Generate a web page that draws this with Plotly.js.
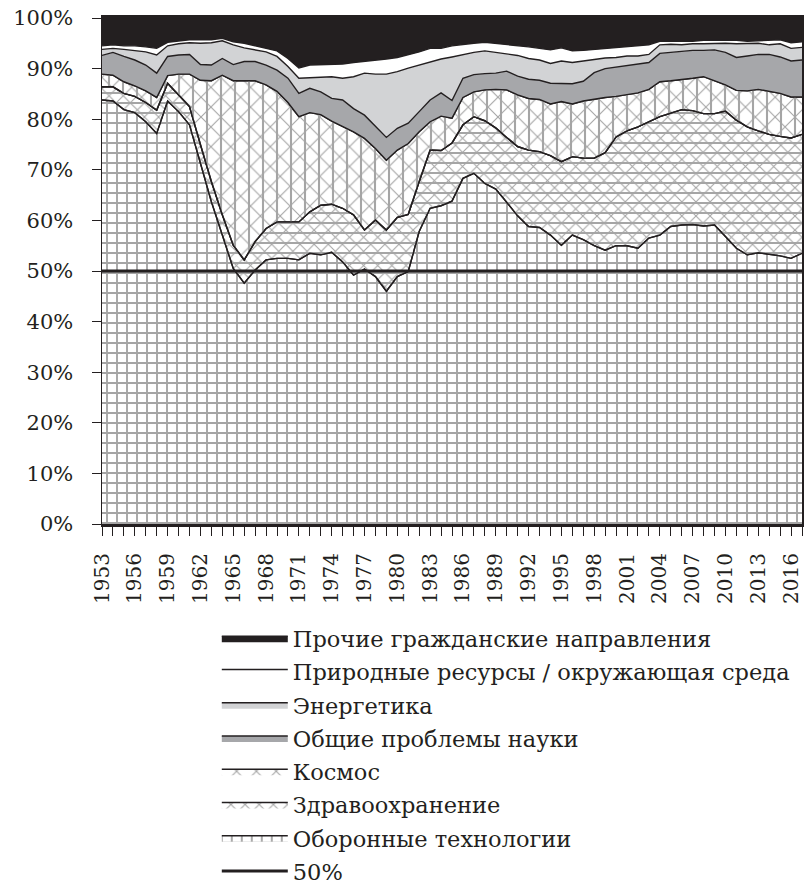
<!DOCTYPE html>
<html>
<head>
<meta charset="utf-8">
<script src="https://cdn.plot.ly/plotly-3.0.1.min.js"></script>
<style>
html,body{margin:0;padding:0;background:#ffffff;}
#chart{width:807px;height:888px;}
</style>
</head>
<body>
<div id="chart"></div>
<script>
// ---------- DATA (shares of the budget, %) ----------
const years = [1953,1954,1955,1956,1957,1958,1959,1960,1961,1962,1963,1964,1965,1966,1967,1968,1969,1970,
  1971,1972,1973,1974,1975,1976,1977,1978,1979,1980,1981,1982,1983,1984,1985,1986,1987,1988,1989,1990,
  1991,1992,1993,1994,1995,1996,1997,1998,1999,2000,2001,2002,2003,2004,2005,2006,2007,2008,2009,2010,
  2011,2012,2013,2014,2015,2016,2017];

const defense = [83.8,83.6,81.9,81.3,79.5,77.2,83.6,81.5,78.9,71.5,63.7,57.1,50.5,47.6,50.2,52.2,52.5,52.5,
  52.2,53.5,53.2,53.7,51.8,49.2,50.4,48.9,46.0,48.9,49.9,57.8,62.4,62.9,63.8,68.3,69.3,67.3,66.2,63.6,
  60.9,58.8,58.6,57.1,55.1,57.1,56.2,55.0,54.1,55.0,55.0,54.5,56.5,57.1,58.8,59.1,59.2,58.9,59.1,56.8,
  54.5,53.2,53.6,53.3,53.0,52.5,53.5];

const health = [2.6,2.8,3.2,3.2,3.8,4.6,3.5,3.3,3.6,3.5,4.0,4.0,4.6,4.6,5.6,6.2,7.2,7.2,
  7.5,8.2,9.8,9.5,10.6,11.9,7.7,11.2,12.1,11.7,11.3,9.9,11.5,10.9,11.5,10.6,11.2,12.4,12.1,12.8,
  13.7,15.1,15.0,15.7,16.5,15.5,16.1,17.3,19.3,21.5,22.7,24.0,23.0,23.4,22.4,22.8,22.5,22.2,22.0,24.8,
  25.3,25.3,24.1,23.7,23.6,23.8,23.5];

const space = [2.5,2.3,2.3,2.1,2.3,2.5,1.5,4.1,6.4,12.7,19.9,27.6,32.5,35.4,31.8,28.4,25.8,23.6,
  20.8,19.6,17.9,16.4,16.1,16.4,18.1,14.1,13.8,13.3,14.0,9.8,5.6,6.8,4.9,5.4,4.9,6.1,7.6,9.4,
  10.2,10.2,10.3,10.2,11.9,10.4,11.3,11.7,10.9,8.0,7.1,6.7,6.4,6.9,6.4,5.9,6.4,7.3,6.5,5.2,
  5.9,7.1,8.2,8.5,8.5,8.1,7.4];

const science = [3.7,4.5,5.0,5.1,5.1,4.8,3.8,3.8,3.9,3.1,3.1,3.3,3.2,3.8,3.8,3.9,4.2,4.8,
  4.6,4.8,4.5,4.5,5.3,4.6,4.6,4.3,4.5,4.3,4.0,4.0,4.3,4.6,3.5,3.8,3.4,3.2,3.2,3.7,
  3.7,3.8,3.8,4.1,3.6,4.0,3.9,5.2,5.7,5.8,5.8,5.6,5.3,5.6,5.6,5.6,5.5,5.2,6.1,6.4,
  6.5,6.9,6.9,7.3,7.2,7.1,7.3];

const energy = [1.2,0.8,1.4,1.9,2.6,3.6,2.1,2.2,2.3,4.2,4.4,3.5,3.9,2.7,2.3,2.6,2.7,2.3,
  3.0,2.1,2.8,4.3,4.3,6.3,8.3,10.4,12.5,11.2,10.9,9.2,7.6,6.7,8.6,4.7,4.4,4.5,4.1,3.5,
  4.1,4.1,4.0,3.9,4.4,4.2,4.0,2.5,2.1,1.9,1.9,1.7,1.6,1.7,1.6,1.3,1.3,1.3,1.3,1.8,
  2.7,2.4,2.2,1.9,2.6,2.5,2.5];

const resources = [0.7,0.7,0.7,0.9,1.0,1.3,0.7,0.6,0.6,0.7,0.6,0.5,0.6,0.9,0.8,0.8,1.1,1.6,
  2.0,2.5,2.6,2.4,2.8,2.8,2.3,2.8,3.0,2.8,2.6,2.6,2.6,2.1,2.2,2.0,1.8,1.7,1.8,1.8,
  1.9,2.3,2.3,2.7,2.6,2.3,2.1,2.1,1.9,2.0,1.9,2.0,1.9,0.7,0.6,0.8,0.5,0.7,0.6,0.7,
  0.7,0.5,0.5,0.9,0.8,1.1,1.1];

const otherCivil = [5.5,5.3,5.5,5.5,5.7,6.0,4.8,4.5,4.3,4.3,4.3,4.0,4.7,5.0,5.5,5.9,6.5,8.0,
  9.9,9.3,9.2,9.2,9.1,8.8,8.6,8.3,8.1,7.8,7.3,6.7,6.0,6.0,5.5,5.2,5.0,4.8,5.0,5.2,
  5.5,5.7,6.0,6.3,5.9,6.5,6.4,6.2,6.0,5.8,5.6,5.5,5.3,4.6,4.6,4.5,4.6,4.4,4.4,4.3,
  4.4,4.6,4.5,4.4,4.3,4.9,4.7];

const seriesNames = [
  'Оборонные технологии',
  'Здравоохранение',
  'Космос',
  'Общие проблемы науки',
  'Энергетика',
  'Природные ресурсы / окружающая среда',
  'Прочие гражданские направления'
];
const thresholdName = '50%';
const thresholdLevel = 50;
const xTickYears = [1953,1956,1959,1962,1965,1968,1971,1974,1977,1980,1983,1986,1989,1992,1995,1998,2001,2004,2007,2010,2013,2016];
const yTickValues = [0,10,20,30,40,50,60,70,80,90,100];

// ---------- STACKING ----------
const layers = [defense, health, space, science, energy, resources, otherCivil];
const cum = [];
let run = years.map(() => 0);
layers.forEach(arr => {
  run = run.map((v, i) => Math.round((v + arr[i]) * 100) / 100);
  cum.push(run);
});

const INK = '#231f20';
const PAT = '#a5a5a5';
const FONT = 'DejaVu Serif';
const edge = {color: INK, width: 1.4, shape: 'linear'};

function base(y, extra) {
  return Object.assign({
    type: 'scatter', mode: 'lines', x: years, y: y,
    line: edge, hoverinfo: 'skip', showlegend: false
  }, extra);
}

const traces = [
  // Defense
  base(cum[0], {name: seriesNames[0], fill: 'tozeroy', fillcolor: '#ffffff',
    fillpattern: {shape: '+', size: 10, solidity: 0.34, fgcolor: PAT, bgcolor: '#ffffff', fillmode: 'replace'},
    showlegend: true, legendrank: 7, legendgroup: 'g7'}),
  // Health (base pattern)
  base(cum[1], {name: seriesNames[1], fill: 'tonexty', fillcolor: '#ffffff',
    fillpattern: {shape: 'x', size: 10, solidity: 0.2, fgcolor: PAT, bgcolor: '#ffffff', fillmode: 'replace'},
    showlegend: true, legendrank: 6, legendgroup: 'g6'}),
  // helper boundary (defense top) for health overlay
  base(cum[0], {}),
  // Health overlay (horizontal lines)
  base(cum[1], {fill: 'tonexty', fillcolor: 'rgba(0,0,0,0)',
    fillpattern: {shape: '-', size: 10, solidity: 0.2, fgcolor: PAT, bgcolor: 'rgba(0,0,0,0)', fillmode: 'replace'}}),
  // Space (base pattern)
  base(cum[2], {name: seriesNames[2], fill: 'tonexty', fillcolor: '#ffffff',
    fillpattern: {shape: 'x', size: 14, solidity: 0.15, fgcolor: PAT, bgcolor: '#ffffff', fillmode: 'replace'},
    showlegend: true, legendrank: 5, legendgroup: 'g5'}),
  // helper boundary (health top) for space overlay
  base(cum[1], {}),
  // Space overlay (vertical lines)
  base(cum[2], {fill: 'tonexty', fillcolor: 'rgba(0,0,0,0)',
    fillpattern: {shape: '|', size: 14, solidity: 0.15, fgcolor: PAT, bgcolor: 'rgba(0,0,0,0)', fillmode: 'replace'}}),
  // Science
  base(cum[3], {name: seriesNames[3], fill: 'tonexty', fillcolor: '#a6a7aa',
    showlegend: true, legendrank: 4, legendgroup: 'g4'}),
  // Energy
  base(cum[4], {name: seriesNames[4], fill: 'tonexty', fillcolor: '#d2d3d5',
    showlegend: true, legendrank: 3, legendgroup: 'g3'}),
  // Natural resources
  base(cum[5], {name: seriesNames[5], fill: 'tonexty', fillcolor: '#ffffff',
    showlegend: true, legendrank: 2, legendgroup: 'g2'}),
  // Other civil
  base(cum[6], {name: seriesNames[6], fill: 'tonexty', fillcolor: INK,
    showlegend: true, legendrank: 1, legendgroup: 'g1'}),
  // 50% line
  {type: 'scatter', mode: 'lines', name: thresholdName,
   x: [years[0], years[years.length - 1]], y: [thresholdLevel, thresholdLevel],
   line: {color: INK, width: 3.2}, hoverinfo: 'skip',
   showlegend: true, legendrank: 8, legendgroup: 'g8'}
];

const layout = {
  width: 807, height: 888, autosize: false,
  margin: {l: 102, r: 5, t: 18, b: 364, pad: 0, autoexpand: false},
  paper_bgcolor: '#ffffff', plot_bgcolor: '#ffffff',
  font: {family: FONT, color: INK},
  showlegend: true,
  legend: {
    x: 0.164, xanchor: 'left', y: -0.184, yanchor: 'top',
    bgcolor: 'rgba(0,0,0,0)', borderwidth: 0,
    font: {family: FONT, size: 22.5, color: INK},
    tracegroupgap: 1, itemwidth: 66, maxheight: 600
  },
  xaxis: {
    range: [1953, 2017], type: 'linear',
    tickvals: xTickYears, ticktext: xTickYears.map(String), tickangle: -90,
    ticks: 'outside', ticklen: 9, tickwidth: 1, tickcolor: INK,
    minor: {tick0: 1953, dtick: 1, ticks: 'outside', ticklen: 9, tickwidth: 1, tickcolor: INK, showgrid: false},
    showline: true, linecolor: INK, linewidth: 3, mirror: true,
    showgrid: false, zeroline: false,
    tickfont: {family: FONT, size: 20, color: INK},
    ticklabelstandoff: 9
  },
  yaxis: {
    range: [0, 100],
    tickvals: yTickValues, ticktext: yTickValues.map(v => v + '%'),
    ticks: 'outside', ticklen: 9, tickwidth: 1, tickcolor: INK,
    showline: true, linecolor: INK, linewidth: 1.5, mirror: true,
    showgrid: false, zeroline: false,
    tickfont: {family: FONT, size: 21, color: INK},
    ticklabelstandoff: 14
  }
};

Plotly.newPlot('chart', traces, layout, {staticPlot: true, displayModeBar: false});
</script>
</body>
</html>
